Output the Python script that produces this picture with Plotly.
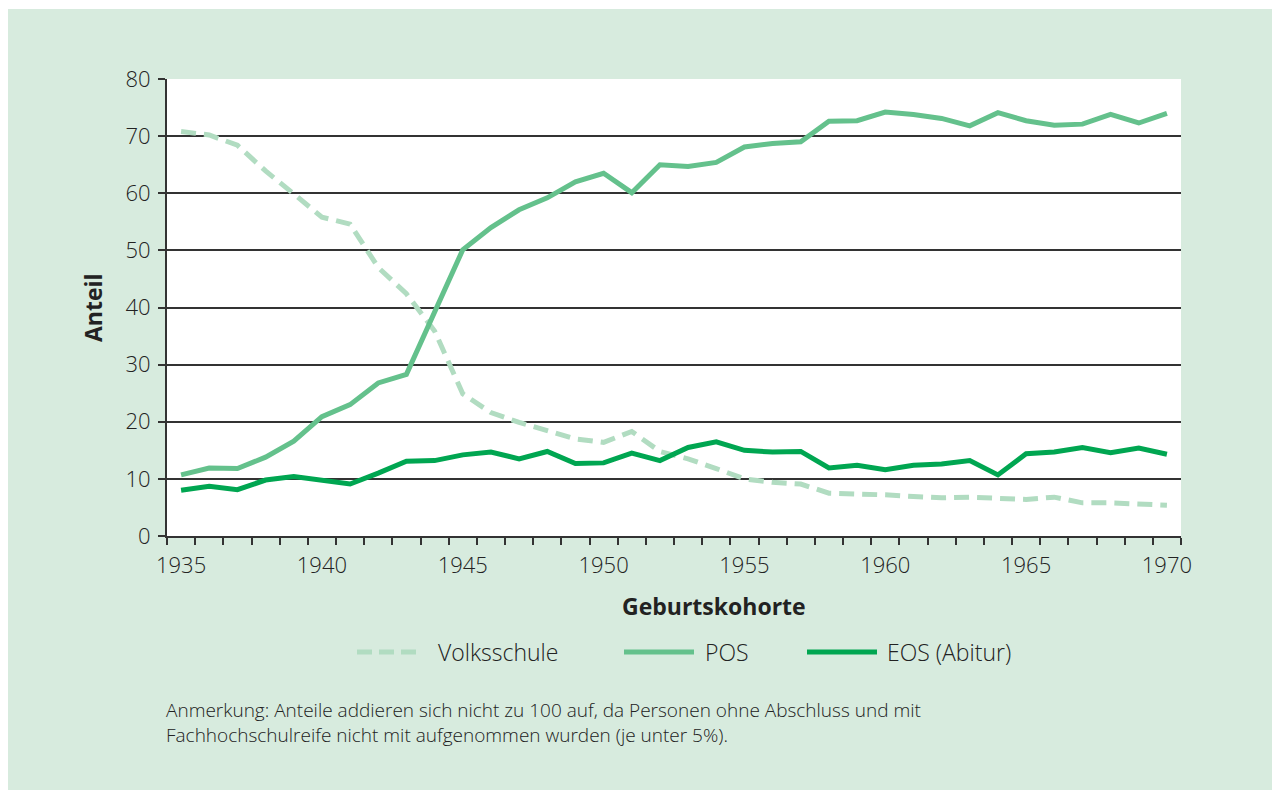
import plotly.graph_objects as go

years = list(range(1935, 1971))

volksschule = [70.8, 70.2, 68.4, 63.9, 59.9, 55.8, 54.6, 47.0, 42.4, 35.9, 24.9,
               21.6, 19.9, 18.5, 17.0, 16.4, 18.3, 14.8, 13.5, 11.8, 10.0, 9.4,
               9.1, 7.5, 7.4, 7.2, 6.9, 6.7, 6.8, 6.7, 6.4, 6.8, 5.8, 5.8, 5.7, 5.4]

pos = [10.7, 11.9, 11.8, 13.8, 16.6, 20.9, 23.0, 26.8, 28.3, 39.2, 50.1,
       54.0, 57.1, 59.2, 62.0, 63.5, 60.1, 65.0, 64.7, 65.4, 68.1, 68.7,
       69.0, 72.6, 72.7, 74.2, 73.8, 73.1, 71.8, 74.1, 72.7, 71.9, 72.1,
       73.8, 72.3, 74.0]

eos = [8.0, 8.7, 8.1, 9.8, 10.4, 9.8, 9.1, 11.0, 13.1, 13.2, 14.2,
       14.7, 13.5, 14.8, 12.7, 12.8, 14.5, 13.2, 15.5, 16.5, 15.0, 14.7,
       14.8, 11.9, 12.4, 11.6, 12.4, 12.6, 13.2, 10.7, 14.4, 14.7, 15.5,
       14.6, 15.4, 14.3]

series_names = ["Volksschule", "POS", "EOS (Abitur)"]
x_tick_labels = [1935, 1940, 1945, 1950, 1955, 1960, 1965, 1970]
y_tick_values = [0, 10, 20, 30, 40, 50, 60, 70, 80]

c_volk = "#b1dcc1"
c_pos = "#64c18c"
c_eos = "#00a651"
bg = "#d7ebde"
txt = "#222222"
FONT = "Open Sans"

fig = go.Figure()
fig.add_trace(go.Scatter(x=years, y=volksschule, mode="lines", name=series_names[0],
                         line=dict(color=c_volk, width=5, dash="15px,8px"), showlegend=False))
fig.add_trace(go.Scatter(x=years, y=pos, mode="lines", name=series_names[1],
                         line=dict(color=c_pos, width=5), showlegend=False))
fig.add_trace(go.Scatter(x=years, y=eos, mode="lines", name=series_names[2],
                         line=dict(color=c_eos, width=5), showlegend=False))

OFF = 8  # page body margin
L, R, T, B = 167 - OFF, 1181 - OFF, 79 - OFF, 536 - OFF
W, H = 1280 - OFF, 791 - OFF
pw, ph = R - L, B - T

def px(x):
    return (x - OFF - L) / pw

def py(y):
    return (B - (y - OFF)) / ph

shapes = [
    dict(type="rect", xref="paper", yref="paper", layer="below",
         x0=px(8), x1=px(1272), y0=py(790), y1=py(9),
         fillcolor=bg, line=dict(width=0)),
    dict(type="rect", xref="paper", yref="paper", layer="below",
         x0=0, x1=1, y0=0, y1=1, fillcolor="white", line=dict(width=0)),
]

# manual legend
leg_y = py(652)
legend_items = [
    (series_names[0], c_volk, "15px,7px", 357, 420, 436),
    (series_names[1], c_pos, "solid", 624, 694, 703),
    (series_names[2], c_eos, "solid", 807, 877, 885),
]
annotations = []
for name, col, dash, x0, x1, xt in legend_items:
    shapes.append(dict(type="line", xref="paper", yref="paper",
                       x0=px(x0), x1=px(x1), y0=leg_y, y1=leg_y,
                       line=dict(color=col, width=5, dash=dash)))
    annotations.append(dict(xref="paper", yref="paper", x=px(xt), y=leg_y,
                            text=name, showarrow=False, xanchor="left", yanchor="middle",
                            font=dict(family=FONT, size=23, color=txt, weight=300)))

annotations.append(dict(xref="paper", yref="paper", x=px(714), y=py(606),
                        text="<b>Geburtskohorte</b>", showarrow=False,
                        xanchor="center", yanchor="middle",
                        font=dict(family=FONT, size=23, color=txt)))
annotations.append(dict(xref="paper", yref="paper", x=px(93), y=py(308),
                        text="<b>Anteil</b>", showarrow=False, textangle=-90,
                        xanchor="center", yanchor="middle",
                        font=dict(family=FONT, size=23, color=txt)))
annotations.append(dict(xref="paper", yref="paper", x=px(164), y=py(722),
                        text="Anmerkung: Anteile addieren sich nicht zu 100 auf, da Personen ohne Abschluss und mit<br>"
                             "Fachhochschulreife nicht mit aufgenommen wurden (je unter 5%).",
                        showarrow=False, xanchor="left", yanchor="middle", align="left",
                        font=dict(family=FONT, size=19, color=txt, weight=300)))

fig.update_layout(
    width=W, height=H,
    margin=dict(l=L, r=W - R, t=T, b=H - B, pad=0),
    paper_bgcolor="white", plot_bgcolor="white",
    font=dict(family=FONT, color=txt),
    shapes=shapes, annotations=annotations,
    xaxis=dict(range=[1934.5, 1970.5], tickmode="array", tickvals=x_tick_labels,
               ticktext=[str(v) for v in x_tick_labels], ticks="",
               ticklabelstandoff=9,
               showgrid=False, zeroline=False, showline=True, linecolor="#333333", linewidth=2,
               tickfont=dict(family=FONT, size=22, color=txt, weight=300),
               minor=dict(tick0=1934.5, dtick=1, ticks="outside", ticklen=7,
                          tickcolor="#333333", tickwidth=1.5, showgrid=False)),
    yaxis=dict(range=[0, 80], tickmode="array", tickvals=y_tick_values,
               ticks="outside", ticklen=7, tickcolor="#333333", tickwidth=1.5,
               ticklabelstandoff=3,
               showgrid=True, gridcolor="#333333", gridwidth=1.5,
               zeroline=False, showline=True, linecolor="#333333", linewidth=2,
               tickfont=dict(family=FONT, size=22, color=txt, weight=300)),
)

fig.write_html("out.html")
